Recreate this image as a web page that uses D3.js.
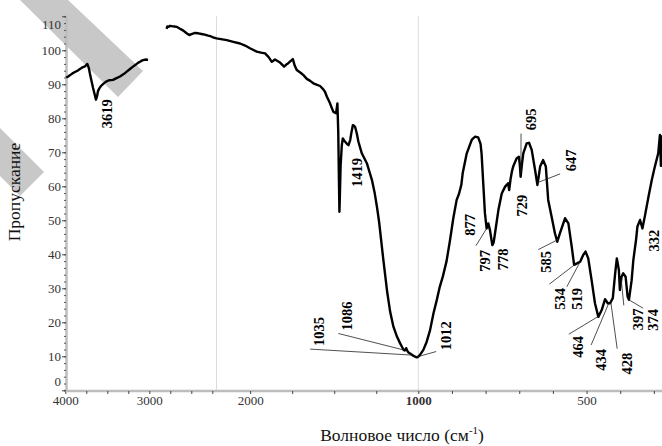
<!DOCTYPE html>
<html><head><meta charset="utf-8">
<script src="https://cdn.jsdelivr.net/npm/d3@7"></script>
<style>body{margin:0;background:#fff}svg{display:block}</style>
</head><body><svg id="c" width="662" height="446"></svg>
<script>
// ---- data ----
const wavenumbers1 = [3990,3965,3944,3915,3885,3855,3825,3795,3765,3738,3720,3706,3688,3670,3650,3635,3622,3611,3595,3575,3545,3515,3480,3432,3390,3349,3305,3265,3230,3194,3160,3135,3100,3075,3040,3015];
const transmittance1 = [92.0,92.3,92.7,93.2,93.6,94.0,94.5,95.0,95.3,96.0,94.8,93.0,91.0,89.0,87.0,85.5,86.5,88.0,88.8,89.5,90.2,90.8,91.2,91.3,91.8,92.3,93.0,93.8,94.5,95.2,95.8,96.3,96.8,97.1,97.3,97.2];

const wavenumbers2 = [2795,2785,2770,2755,2733,2700,2674,2640,2610,2595,2560,2524,2490,2455,2417,2380,2340,2300,2277,2240,2200,2139,2100,2060,2030,2001,1980,1961,1935,1911,1890,1871,1860,1852,1835,1822,1810,1798,1785,1773,1760,1746,1735,1723,1700,1683,1663,1643,1624,1605,1584,1565,1555,1544,1525,1514,1505,1489,1481,1476,1472,1469,1466,1462,1455,1449,1442,1435,1425,1415,1405,1397,1389,1382,1376,1366,1356,1336,1306,1276,1260,1246,1233,1221,1209,1197,1185,1167,1148,1127,1108,1095,1088,1080,1072,1065,1058,1042,1028,1015,1008,1000,995,985,975,965,955,945,936,927,916,906,896,886,879,872,868,856,841,831,822,815,812,807,802,797,792,787,780,776,772,762,752,742,733,730,726,722,718,708,701,698,696,692,688,678,671,663,653,646,642,638,629,621,614,604,594,587,579,564,554,544,537,527,519,510,503,495,485,475,465,455,445,437,430,422,415,410,404,401,396,391,384,378,374,366,361,353,349,341,334,326,316,306,297,287,282,279,277];
const transmittance2 = [106.3,107.0,106.9,107.2,107.1,107.0,106.9,106.4,106.0,105.8,105.1,104.5,104.8,105.1,105.0,104.8,104.6,104.3,104.2,103.8,103.5,103.0,102.5,102.0,101.4,100.6,100.1,99.6,99.3,99.1,98.0,96.6,97.0,97.3,96.8,96.4,95.8,95.2,95.8,96.2,96.8,97.4,95.5,94.2,93.4,92.7,91.6,91.0,90.3,89.9,89.5,88.5,87.8,86.4,84.4,83.0,81.9,81.5,84.4,76.0,62.0,52.5,58.0,66.0,72.0,74.1,73.5,73.1,72.5,72.1,73.6,76.0,78.0,77.8,77.5,75.6,73.1,69.7,66.8,61.9,58.2,54.0,49.5,44.2,38.9,33.9,28.9,23.0,18.7,15.8,13.8,12.6,11.9,11.7,12.4,11.6,11.1,10.6,10.1,9.8,9.7,9.9,10.4,11.9,14.3,17.7,22.6,26.6,30.5,33.5,38.0,44.0,50.6,56.0,57.8,60.5,63.9,69.7,73.7,74.6,74.4,72.5,69.7,60.9,52.1,47.6,49.1,47.1,42.7,43.5,46.2,53.0,57.9,59.9,60.9,58.9,62.0,64.3,65.8,68.2,68.7,66.0,62.8,66.5,69.7,72.6,72.8,70.7,64.8,60.4,63.0,65.8,67.7,65.8,56.0,51.1,46.2,43.7,46.2,50.6,49.1,42.2,36.9,37.4,37.8,39.8,40.8,38.8,32.4,25.6,21.6,23.6,26.8,25.6,25.6,27.1,34.4,38.8,35.4,29.5,33.4,34.4,33.4,27.5,26.6,32.4,38.3,44.2,48.1,50.1,47.6,51.6,56.9,61.9,65.8,69.7,75.1,66.0,75.0];

const yMajorTicks = [0,10,20,30,40,50,60,70,80,90,100,110];
const xLabeledTicks = [4000,3000,2000,1000,500];
const xMinorTicks = [3750,3500,3250,2750,2500,2250,1750,1500,1250,900,800,700,600,400,300];
const scaleBreaks = [2200,1000];

const peakLabels = ["3619","1419","1086","1035","1012","877","797","778","729","695","647","585","534","519","464","434","428","397","374","332"];
const peakWavenumbers = [3619,1419,1086,1035,1012,877,797,778,729,695,647,585,534,519,464,434,428,397,374,332];

const yTitle = "Пропускание";
const xTitle = "Волновое число (см";
const xTitleSup = "-1";

// ---- layout (pixel offsets of the labels from their peak point) ----
const labelLayout = [
  {dx:9.4, dy:19, lead:null},
  {dx:9, dy:27.8, lead:null},
  {dx:-57, dy:-34, lead:[-65.4,-16.5]},
  {dx:-93.9, dy:-23.5, lead:[-102.2,-6]},
  {dx:29.9, dy:-21.3, lead:[19.9,-5.6]},
  {dx:10.3, dy:33.6, lead:null},
  {dx:-1.6, dy:32.3, lead:[-10.6,17.2]},
  {dx:9.6, dy:15.7, lead:null},
  {dx:13, dy:18.3, lead:null},
  {dx:9.9, dy:-54.3, lead:[0.1,-40.1]},
  {dx:33.8, dy:-22.4, lead:[23,-8.9]},
  {dx:-12, dy:22.3, lead:[-19.7,10]},
  {dx:-14.8, dy:34.5, lead:[-25.8,19.8]},
  {dx:-3.3, dy:37.2, lead:[-13.3,24.9]},
  {dx:-20.7, dy:30.6, lead:[-29.9,18.1]},
  {dx:-7.5, dy:56.7, lead:[-17.6,41.7]},
  {dx:16.2, dy:61.7, lead:[6.4,46.7]},
  {dx:16.8, dy:40, lead:[2.6,26]},
  {dx:24, dy:20.1, lead:[14.2,8.4]},
  {dx:10.7, dy:15.5, lead:null}
];

const serif = "'Liberation Serif','Times New Roman',serif";
const svg = d3.select("#c");

// watermark-like grey bands of the source image
svg.append("polygon").attr("points","20,0 68,0 143,71 118,97").attr("fill","#c8c8c8");
svg.append("polygon").attr("points","0,128 44,172 20,196 0,176").attr("fill","#c8c8c8");

const x = d3.scaleLinear().domain([4000,2200,1000,277]).range([65.3,216.5,418.3,661.6]);
const y = d3.scaleLinear().domain([0,110]).range([390.3,16.3]);

// scale-break reference lines
svg.selectAll("line.brk").data(scaleBreaks).enter().append("line")
  .attr("x1",d=>x(d)).attr("x2",d=>x(d)).attr("y1",y(110)).attr("y2",y(0))
  .attr("stroke","#dcdcdc").attr("stroke-width",1);

// x axis
const xAll = xLabeledTicks.concat(xMinorTicks);
const gx = svg.append("g").attr("transform",`translate(0,${y(0)+0.7})`)
  .call(d3.axisBottom(x).tickValues(xAll).tickSize(3).tickSizeOuter(0).tickPadding(2)
        .tickFormat(d=>xLabeledTicks.includes(d)?String(d):""));
gx.select(".domain").attr("stroke","#bdbdbd").attr("stroke-width",2.5).attr("d",`M${x(4000)},0H662`);
gx.selectAll(".tick line").attr("stroke","#444");
gx.selectAll(".tick text").attr("font-family",serif).attr("font-size",13).attr("fill","#333")
  .attr("font-weight",d=>d===1000?"bold":"normal");

// y axis
const gyMinor = svg.append("g").attr("transform",`translate(${x(4000)+0.7},0)`)
  .call(d3.axisLeft(y).tickValues(d3.range(0,111,2)).tickSize(2).tickFormat(""));
gyMinor.select(".domain").attr("stroke","#bdbdbd").attr("stroke-width",2.5);
gyMinor.selectAll(".tick line").attr("stroke","#555");
const gy = svg.append("g").attr("transform",`translate(${x(4000)+0.7},0)`)
  .call(d3.axisLeft(y).tickValues(yMajorTicks).tickSize(4).tickPadding(1));
gy.select(".domain").remove();
gy.selectAll(".tick line").attr("stroke","#444");
gy.selectAll(".tick text").attr("font-family",serif).attr("font-size",13).attr("fill","#333")
  .attr("dy",d=>d===0?"-0.35em":(d===110?"0.95em":"0.32em"));

// titles
svg.append("text").attr("transform",`translate(20,192) rotate(-90)`).attr("text-anchor","middle")
  .attr("font-family",serif).attr("font-size",17.5).attr("fill","#111").text(yTitle);
const xt = svg.append("text").attr("x",402).attr("y",441).attr("text-anchor","middle")
  .attr("font-family",serif).attr("font-size",17.5).attr("fill","#111");
xt.append("tspan").text(xTitle);
xt.append("tspan").attr("font-size",11).attr("dy",-7).text(xTitleSup);
xt.append("tspan").attr("dy",7).text(")");

// spectrum
const line = d3.line().x(d=>x(d[0])).y(d=>y(d[1]));
[[wavenumbers1,transmittance1],[wavenumbers2,transmittance2]].forEach(([w,t])=>{
  svg.append("path").datum(w.map((v,i)=>[v,t[i]])).attr("d",line)
    .attr("fill","none").attr("stroke","#000").attr("stroke-width",2.4).attr("stroke-linejoin","round");
});

// interpolate transmittance at a wavenumber from the read data
function tAt(wn){
  for (const [w,t] of [[wavenumbers1,transmittance1],[wavenumbers2,transmittance2]]){
    for (let i=0;i<w.length-1;i++){
      if (wn<=w[i] && wn>=w[i+1]){
        const f=(w[i]-wn)/(w[i]-w[i+1]); return t[i]+f*(t[i+1]-t[i]);
      }
    }
  }
  return null;
}

// peak annotations
peakLabels.forEach((lab,i)=>{
  const wn = peakWavenumbers[i];
  const px = x(wn), py = y(tAt(wn));
  const L = labelLayout[i];
  if (L.lead){
    svg.append("line").attr("x1",px+L.lead[0]).attr("y1",py+L.lead[1]).attr("x2",px).attr("y2",py)
      .attr("stroke","#222").attr("stroke-width",0.8);
  }
  svg.append("text").attr("transform",`translate(${px+L.dx},${py+L.dy}) rotate(-90)`)
    .attr("text-anchor","middle").attr("dominant-baseline","central")
    .attr("font-family",serif).attr("font-weight","bold").attr("font-size",14.5).attr("fill","#000").text(lab);
});
</script></body></html>
